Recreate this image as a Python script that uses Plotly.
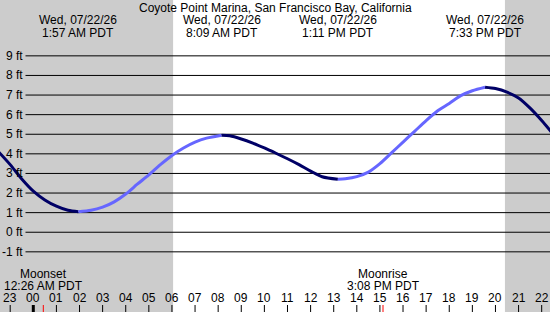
import plotly.graph_objects as go

# ---- data ----
title_text = "Coyote Point Marina, San Francisco Bay, California"
tide_hours = [-1.5, -1.0, -0.5, 0.0, 0.5, 1.0, 1.5, 1.95,
              2.5, 3.0, 3.5, 4.0, 4.5, 5.0, 5.5, 6.0, 6.5, 7.0, 7.5, 8.15,
              8.5, 9.0, 9.5, 10.0, 10.5, 11.0, 11.5, 12.0, 12.5, 13.18,
              13.5, 14.0, 14.5, 15.0, 15.5, 16.0, 16.5, 17.0, 17.5, 18.0, 18.5, 19.0, 19.55,
              20.0, 20.5, 21.0, 21.5, 22.0, 22.5]
tide_feet = [4.1, 3.45, 2.72, 2.1, 1.65, 1.33, 1.12, 1.05,
             1.12, 1.28, 1.55, 1.95, 2.45, 2.93, 3.45, 3.92, 4.3, 4.6, 4.8, 4.95,
             4.92, 4.76, 4.55, 4.3, 4.03, 3.75, 3.45, 3.12, 2.83, 2.7,
             2.73, 2.84, 3.07, 3.5, 4.05, 4.6, 5.15, 5.7, 6.2, 6.57, 6.97, 7.22, 7.4,
             7.33, 7.15, 6.85, 6.33, 5.7, 5.0]
extreme_hours = [1.95, 8.15, 13.18, 19.55]
extreme_dates = ["Wed, 07/22/26"] * 4
extreme_times = ["1:57 AM PDT", "8:09 AM PDT", "1:11 PM PDT", "7:33 PM PDT"]
sunrise_hour = 6.05
sunset_hour = 20.41
moon_events = ["Moonset", "Moonrise"]
moon_times = ["12:26 AM PDT", "3:08 PM PDT"]
moon_hours = [0.433, 15.133]
hour_values = list(range(-1, 23))
hour_labels = ["23"] + ["%02d" % h for h in range(0, 23)]
ft_values = list(range(-1, 10))
ft_labels = ["%d ft" % v for v in ft_values]

X_RANGE = [-1.441, 22.36]
Y_RANGE = [-4.07, 11.85]
W, H = 550, 312
FONT = "Liberation Sans, Arial, sans-serif"
DARK = "#000066"
LIGHT = "#6666ff"
GRAY = "#cccccc"

fig = go.Figure()

# split tide curve into rising / falling segments
segments = []
cur = [0]
cur_dir = None
for i in range(1, len(tide_hours)):
    d = 1 if tide_feet[i] > tide_feet[i - 1] else -1
    if cur_dir is None or d == cur_dir:
        cur.append(i)
        cur_dir = d
    else:
        segments.append((cur_dir, cur))
        cur = [i - 1, i]
        cur_dir = d
segments.append((cur_dir, cur))

for d, idx in segments:
    fig.add_trace(go.Scatter(
        x=[tide_hours[i] for i in idx],
        y=[tide_feet[i] for i in idx],
        mode="lines",
        line=dict(color=LIGHT if d > 0 else DARK, width=3, shape="spline", smoothing=0.8),
        hoverinfo="skip", showlegend=False))

shapes = []
# night shading
shapes.append(dict(type="rect", xref="x", yref="paper", x0=X_RANGE[0] - 1, x1=sunrise_hour,
                   y0=0, y1=1, fillcolor=GRAY, line_width=0, layer="below"))
shapes.append(dict(type="rect", xref="x", yref="paper", x0=sunset_hour, x1=X_RANGE[1] + 1,
                   y0=0, y1=1, fillcolor=GRAY, line_width=0, layer="below"))
# horizontal grid lines
for v in ft_values:
    shapes.append(dict(type="line", xref="paper", yref="y", x0=25.5 / W, x1=1, y0=v, y1=v,
                       line=dict(color="black", width=1), layer="below"))
# hour ticks
for h in hour_values:
    shapes.append(dict(type="line", xref="x", yref="paper", x0=h, x1=h,
                       y0=0, y1=7 / H,
                       line=dict(color="black", width=3 if h == 0 else 1)))
# moon event ticks
for mh in moon_hours:
    shapes.append(dict(type="line", xref="x", yref="paper", x0=mh, x1=mh,
                       y0=0, y1=7 / H, line=dict(color="red", width=1)))

ann = []
def py(pix):
    return (H - pix) / H

ann.append(dict(text=title_text, xref="paper", yref="paper", x=0.5, y=py(8),
                xanchor="center", yanchor="middle", showarrow=False))
for h, dt, tm in zip(extreme_hours, extreme_dates, extreme_times):
    ann.append(dict(text=dt, xref="x", yref="paper", x=h, y=py(20.5),
                    xanchor="center", yanchor="middle", showarrow=False))
    ann.append(dict(text=tm, xref="x", yref="paper", x=h, y=py(33),
                    xanchor="center", yanchor="middle", showarrow=False))
for v, lab in zip(ft_values, ft_labels):
    ann.append(dict(text=lab, xref="paper", yref="y", x=24.5 / W, y=v,
                    xanchor="right", yanchor="middle", showarrow=False))
for h, lab in zip(hour_values, hour_labels):
    ann.append(dict(text=lab, xref="x", yref="paper", x=h, y=py(297.5),
                    xanchor="center", yanchor="middle", showarrow=False, borderpad=0))
for mh, ev, tm in zip(moon_hours, moon_events, moon_times):
    ann.append(dict(text=ev, xref="x", yref="paper", x=mh, y=py(273.5),
                    xanchor="center", yanchor="middle", showarrow=False, borderpad=0))
    ann.append(dict(text=tm, xref="x", yref="paper", x=mh, y=py(285.5),
                    xanchor="center", yanchor="middle", showarrow=False, borderpad=0))

fig.update_layout(
    width=W, height=H, margin=dict(l=0, r=0, t=0, b=0),
    paper_bgcolor="white", plot_bgcolor="white",
    xaxis=dict(range=X_RANGE, visible=False, fixedrange=True),
    yaxis=dict(range=Y_RANGE, visible=False, fixedrange=True),
    shapes=shapes, annotations=ann,
    font=dict(family=FONT, size=12, color="black"),
    hovermode=False, showlegend=False,
)

fig.write_html("out.html", config={"displayModeBar": False})
